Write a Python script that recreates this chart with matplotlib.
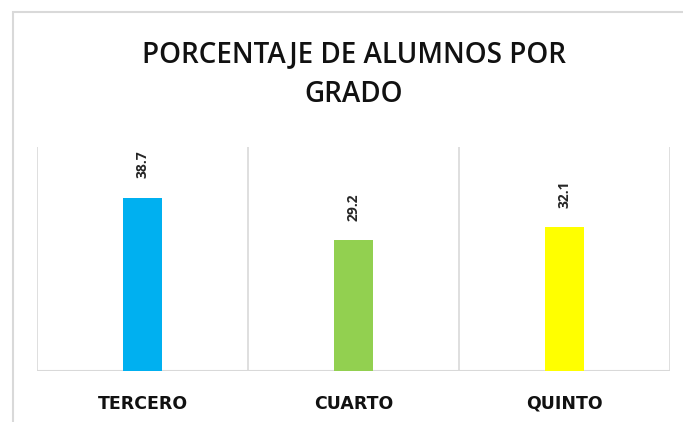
import matplotlib
matplotlib.use("Agg")
import matplotlib.pyplot as plt
from matplotlib.patches import Rectangle

categories = ["TERCERO", "CUARTO", "QUINTO"]
values = [38.7, 29.2, 32.1]
colors = ["#00B0F0", "#92D050", "#FFFF00"]
title = "PORCENTAJE DE ALUMNOS POR\nGRADO"

W, H = 683, 422
fig = plt.figure(figsize=(W / 100, H / 100), dpi=100)
fig.patch.set_facecolor("white")

# outer chart border
fig.patches.append(Rectangle((13 / W, -0.05), 1.2, (H - 12) / H + 0.05,
                             transform=fig.transFigure, fill=False,
                             edgecolor="#d9d9d9", linewidth=1.5))

left, right, top, bottom = 37, 670, 147, 371
ax = fig.add_axes([left / W, 1 - bottom / H, (right - left) / W, (bottom - top) / H])
x = list(range(len(categories)))
ax.bar(x, values, width=0.185, color=colors, zorder=3)
ax.set_xlim(-0.5, len(categories) - 0.5)
ax.set_ylim(0, 50)
for s in ax.spines.values():
    s.set_visible(False)
for b in [i - 0.5 for i in range(len(categories) + 1)]:
    ax.axvline(b, color="#d9d9d9", linewidth=1.2, zorder=1)
ax.axhline(0, color="#d9d9d9", linewidth=1.5, zorder=2)
ax.set_yticks([])
ax.set_xticks(x)
ax.set_xticklabels(categories, fontsize=12.5, fontweight="bold", family="DejaVu Sans",
                   color="#111111")
ax.tick_params(axis="x", length=0, pad=17)
for xi, v in zip(x, values):
    ax.annotate(f"{v}", (xi, v), xytext=(0, 14), textcoords="offset points",
                rotation=90, ha="center", va="bottom", fontsize=10,
                fontweight="bold", family="Open Sans", color="#262626")

fig.text(354 / W, 1 - 75 / H, title, ha="center", va="center", fontsize=20,
         fontweight="semibold", family="Open Sans", linespacing=1.5, color="#111111")

fig.savefig("out.png", dpi=100)
